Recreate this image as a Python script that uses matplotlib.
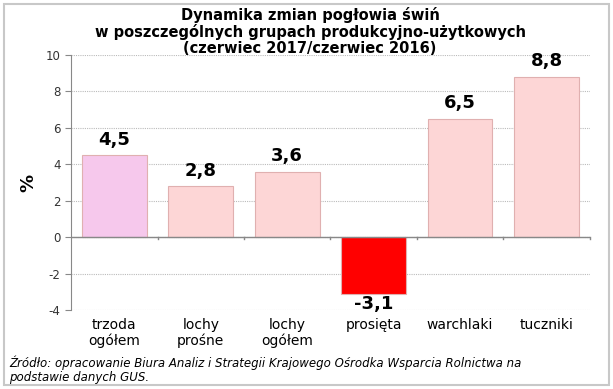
import matplotlib
matplotlib.use("Agg")
import matplotlib.pyplot as plt
from matplotlib.patches import Rectangle

categories = ["trzoda\nogółem", "lochy\nprośne", "lochy\nogółem", "prosięta", "warchlaki", "tuczniki"]
values = [4.5, 2.8, 3.6, -3.1, 6.5, 8.8]
labels = ["4,5", "2,8", "3,6", "-3,1", "6,5", "8,8"]
colors = ["#F6C8EC", "#FDD6D6", "#FDD6D6", "#FF0000", "#FDD6D6", "#FDD6D6"]
yticks = [-4, -2, 0, 2, 4, 6, 8, 10]

fig = plt.figure(figsize=(6.13, 3.89), dpi=100)
fig.patches.append(Rectangle((0.007, 0.01), 0.986, 0.98, transform=fig.transFigure,
                             fill=False, edgecolor="#C8C8C8", linewidth=1.5))
ax = fig.add_axes([0.116, 0.203, 0.846, 0.656])

x = list(range(len(values)))
ax.bar(x, values, width=0.75, color=colors, edgecolor="#E0B0B0", linewidth=0.8, zorder=3)
for xi, v, lab in zip(x, values, labels):
    if v >= 0:
        ax.text(xi, v + 0.35, lab, ha="center", va="bottom", fontsize=13, fontweight="bold")
    else:
        ax.text(xi, v - 0.1, lab, ha="center", va="top", fontsize=13, fontweight="bold")

ax.set_xlim(-0.5, len(values) - 0.5)
ax.set_ylim(-4, 10)
ax.set_yticks(yticks)
ax.set_yticklabels([str(t) for t in yticks], fontsize=8.5, color="#333333")
ax.set_xticks(x)
ax.set_xticklabels(categories, fontsize=10, linespacing=1.1)
ax.tick_params(axis="x", length=0, pad=6)
ax.tick_params(axis="y", length=4, color="#888888")
ax.grid(axis="y", linestyle=(0, (1, 1)), color="#BBBBBB", linewidth=0.8, zorder=0)
for s in ["top", "right", "bottom"]:
    ax.spines[s].set_visible(False)
ax.spines["left"].set_color("#888888")
ax.axhline(0, color="#888888", linewidth=1, zorder=4)
for b in [0.5, 1.5, 2.5, 3.5, 4.5, 5.5]:
    ax.plot([b, b], [0, -0.12], color="#888888", linewidth=1, zorder=4, clip_on=False)
ax.set_ylabel("%", fontsize=13, fontweight="bold", labelpad=6)

fig.text(0.506, 0.983, "Dynamika zmian pogłowia świń\nw poszczególnych grupach produkcyjno-użytkowych\n(czerwiec 2017/czerwiec 2016)",
         ha="center", va="top", fontsize=10.5, fontweight="bold", linespacing=1.08)
fig.text(0.015, 0.049, "Źródło: opracowanie Biura Analiz i Strategii Krajowego Ośrodka Wsparcia Rolnictwa na\npodstawie danych GUS.",
         ha="left", va="center", fontsize=8.5, style="italic", linespacing=1.15)

fig.savefig("out.png", dpi=100)
